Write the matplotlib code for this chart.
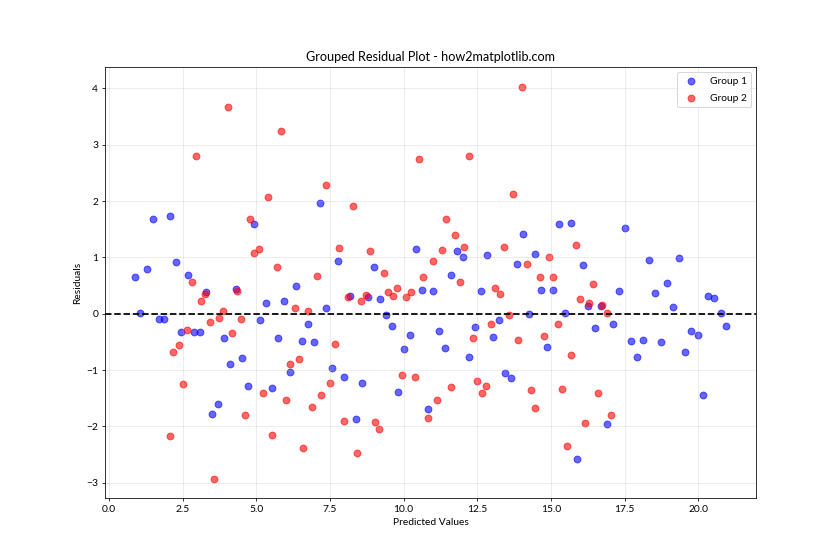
import matplotlib
matplotlib.use("Agg")
import matplotlib.pyplot as plt

plt.rcParams['font.family'] = ['Lato', 'DejaVu Sans']
plt.rcParams['font.size'] = 10.5

group1_x = [0.87, 1.28, 1.48, 2.06, 2.26, 2.67, 3.28, 1.07, 4.30, 4.91,
            1.69, 1.86, 2.46, 2.87, 3.08, 3.89, 4.10, 4.51, 4.71, 3.69,
            3.49, 5.12, 7.16, 7.77, 8.99, 6.34, 5.32, 5.93, 7.36, 8.18,
            8.79, 9.19, 9.40, 10.42, 10.62, 6.75, 5.73, 6.54, 6.95, 6.14,
            5.53, 7.56, 7.97, 8.58, 8.38, 9.60, 10.21, 10.01, 9.81, 11.00,
            11.61, 11.81, 12.01, 12.63, 12.83, 13.85, 14.05, 14.46, 14.67, 15.07,
            15.28, 15.68, 16.09, 14.26, 15.48, 16.27, 11.20, 11.40, 12.42, 12.22,
            13.24, 13.03, 13.44, 13.65, 14.87, 10.83, 15.89, 17.52, 18.34, 19.35,
            18.95, 17.32, 18.54, 19.15, 20.34, 20.54, 20.75, 16.70, 16.50, 17.11,
            17.72, 18.13, 17.93, 18.74, 19.76, 19.97, 19.56, 20.14, 20.95, 16.91]
group1_res = [0.66, 0.80, 1.69, 1.74, 0.92, 0.69, 0.39, 0.02, 0.44, 1.60,
              -0.09, -0.09, -0.32, -0.32, -0.32, -0.43, -0.89, -0.78, -1.28, -1.60,
              -1.78, -0.11, 1.97, 0.94, 0.83, 0.50, 0.20, 0.23, 0.11, 0.32,
              0.30, 0.27, -0.02, 1.15, 0.43, -0.18, -0.43, -0.48, -0.50, -1.03,
              -1.31, -0.96, -1.12, -1.23, -1.87, -0.21, -0.37, -0.62, -1.39, 0.41,
              0.69, 1.12, 1.01, 0.41, 1.05, 0.89, 1.42, 1.07, 0.43, 0.43,
              1.60, 1.62, 0.87, 0.00, 0.02, 0.14, -0.30, -0.60, -0.23, -0.76,
              -0.11, -0.41, -1.05, -1.14, -0.59, -1.69, -2.58, 1.53, 0.96, 0.99,
              0.55, 0.41, 0.37, 0.12, 0.32, 0.28, 0.02, 0.14, -0.25, -0.18,
              -0.48, -0.46, -0.76, -0.50, -0.30, -0.37, -0.67, -1.44, -0.21, -1.95]

group2_x = [4.03, 2.94, 2.81, 3.25, 3.11, 3.86, 4.34, 4.78, 4.91, 5.08,
            3.72, 3.42, 4.47, 4.17, 2.64, 2.37, 2.19, 2.50, 2.06, 3.55,
            4.61, 5.21, 5.83, 7.36, 5.39, 8.28, 10.52, 7.80, 8.85, 5.69,
            7.05, 9.33, 10.66, 6.31, 6.75, 8.11, 8.55, 8.72, 9.47, 9.64,
            9.77, 10.08, 10.25, 7.67, 6.14, 6.44, 6.00, 7.19, 7.50, 6.88,
            5.53, 6.58, 7.97, 8.41, 9.02, 9.16, 9.94, 10.40, 12.22, 14.02,
            13.71, 11.44, 11.74, 12.05, 11.30, 11.00, 11.91, 13.41, 14.19, 14.94,
            14.63, 15.07, 15.85, 13.10, 13.27, 15.99, 13.58, 16.30, 12.97, 12.35,
            13.87, 14.76, 15.24, 15.68, 11.61, 11.13, 10.83, 12.49, 12.80, 12.66,
            14.33, 14.46, 15.38, 15.55, 16.16, 16.43, 16.74, 16.91, 16.60, 17.04]
group2_res = [3.68, 2.81, 0.57, 0.36, 0.23, 0.05, 0.41, 1.69, 1.08, 1.15,
              -0.07, -0.14, -0.09, -0.34, -0.28, -0.55, -0.67, -1.24, -2.17, -2.93,
              -1.79, -1.40, 3.25, 2.29, 2.08, 1.92, 2.75, 1.17, 1.12, 0.83,
              0.67, 0.73, 0.66, 0.11, 0.05, 0.30, 0.23, 0.34, 0.39, 0.32,
              0.46, 0.30, 0.39, -0.53, -0.89, -0.80, -1.53, -1.44, -1.23, -1.65,
              -2.15, -2.38, -1.90, -2.47, -1.92, -2.04, -1.08, -1.12, 2.81, 4.03,
              2.13, 1.69, 1.40, 1.19, 1.14, 0.94, 0.57, 1.19, 0.89, 1.01,
              0.66, 0.66, 1.23, 0.46, 0.36, 0.27, -0.02, 0.20, -0.18, -0.43,
              -0.46, -0.39, -0.18, -0.73, -1.30, -1.53, -1.85, -1.19, -1.28, -1.40,
              -1.35, -1.67, -1.33, -2.34, -1.94, 0.52, 0.16, 0.02, -1.40, -1.79]

fig, ax = plt.subplots(figsize=(12, 8), dpi=70)
ax.scatter(group1_x, group1_res, color='blue', alpha=0.6, s=50, label='Group 1')
ax.scatter(group2_x, group2_res, color='red', alpha=0.6, s=50, label='Group 2')
ax.axhline(y=0, color='black', linestyle='--', linewidth=1.8)
ax.set_title('Grouped Residual Plot - how2matplotlib.com', fontsize=13)
ax.set_xlabel('Predicted Values')
ax.set_ylabel('Residuals')
ax.legend(loc='upper right', labelspacing=0.8)
ax.grid(True, alpha=0.3)
fig.savefig('out.png', dpi=70)
